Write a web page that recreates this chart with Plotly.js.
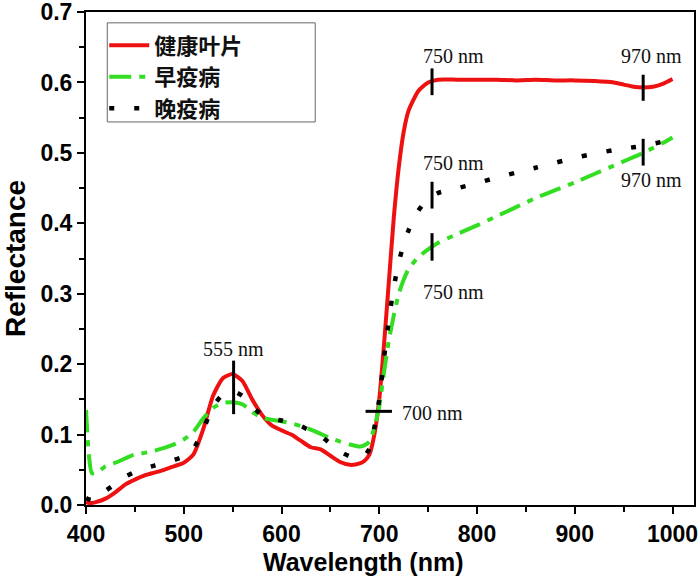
<!DOCTYPE html>
<html>
<head>
<meta charset="utf-8">
<script src="https://cdn.plot.ly/plotly-3.0.1.min.js"></script>
<style>html,body{margin:0;padding:0;background:#fff;}#chart{width:700px;height:580px;}</style>
</head>
<body>
<div id="chart"></div>
<script>
var wavelength = [400,403,406,410,420,430,440,450,460,470,480,490,500,510,520,530,540,550,560,570,580,590,600,610,620,630,640,650,660,670,680,685,690,695,700,705,710,715,720,725,730,740,750,760,780,800,820,840,860,880,900,920,940,950,960,970,980,990,1000];
var healthy = [0.004,0.003,0.003,0.004,0.009,0.018,0.029,0.036,0.042,0.046,0.050,0.055,0.060,0.072,0.108,0.155,0.180,0.186,0.176,0.150,0.128,0.113,0.106,0.100,0.091,0.082,0.079,0.070,0.061,0.057,0.059,0.063,0.072,0.100,0.150,0.230,0.320,0.410,0.480,0.530,0.560,0.588,0.600,0.604,0.604,0.604,0.604,0.603,0.604,0.603,0.603,0.602,0.600,0.597,0.594,0.593,0.594,0.598,0.605];
var early = [0.135,0.070,0.045,0.045,0.055,0.060,0.066,0.072,0.074,0.077,0.081,0.086,0.093,0.104,0.123,0.138,0.145,0.146,0.143,0.132,0.124,0.121,0.119,0.116,0.112,0.107,0.101,0.095,0.090,0.086,0.083,0.085,0.090,0.110,0.140,0.190,0.235,0.270,0.300,0.320,0.335,0.352,0.363,0.372,0.385,0.397,0.410,0.423,0.436,0.447,0.458,0.470,0.482,0.488,0.494,0.500,0.507,0.514,0.522];
var late = [0.010,0.008,0.007,0.008,0.020,0.030,0.040,0.047,0.052,0.056,0.060,0.064,0.069,0.080,0.107,0.140,0.157,0.162,0.155,0.140,0.128,0.123,0.120,0.117,0.112,0.105,0.098,0.087,0.076,0.069,0.067,0.070,0.080,0.110,0.150,0.210,0.265,0.310,0.345,0.370,0.390,0.418,0.435,0.443,0.450,0.457,0.465,0.472,0.479,0.486,0.493,0.499,0.504,0.506,0.508,0.510,0.513,0.516,0.520];
var seriesNames = ['健康叶片','早疫病','晚疫病'];

var xTickVals = [400, 500, 600, 700, 800, 900, 1000];
var xTickText = ['400', '500', '600', '700', '800', '900', '1000'];
var yTickVals = [0, 0.1, 0.2, 0.3, 0.4, 0.5, 0.6, 0.7];
var yTickText = ['0.0', '0.1', '0.2', '0.3', '0.4', '0.5', '0.6', '0.7'];

// feature markers (vertical bars)
var markX  = [551, 754, 970, 754, 754, 970];
var markY0 = [0.129, 0.582, 0.574, 0.421, 0.347, 0.482];
var markY1 = [0.205, 0.620, 0.611, 0.459, 0.386, 0.520];
// horizontal marker at 700 nm
var hMarkX = [686, 713];
var hMarkY = 0.133;
// labels
var labelText = ['555 nm','750 nm','970 nm','750 nm','750 nm','970 nm','700 nm'];
var labelX    = [551, 776, 979, 776, 776, 979, 721];
var labelY    = [0.222, 0.638, 0.638, 0.485, 0.303, 0.462, 0.130];
var labelAnchor = ['center','center','center','center','center','center','left'];

function bold(arr) { return arr.map(function (s) { return '<b>' + s + '</b>'; }); }

var traces = [
  {x: wavelength, y: healthy, name: seriesNames[0], mode: 'lines',
   line: {color: '#ee1111', width: 4, shape: 'spline', smoothing: 0.6}},
  {x: wavelength, y: early, name: seriesNames[1], mode: 'lines',
   line: {color: '#33dd22', width: 4, dash: '22px,8px,6px,8px', shape: 'spline', smoothing: 0.6}},
  {x: wavelength, y: late, name: seriesNames[2], mode: 'lines',
   line: {color: '#000000', width: 4.5, dash: '5px,20px', shape: 'spline', smoothing: 0.6}}
];

var shapes = [];
for (var i = 0; i < markX.length; i++) {
  shapes.push({type: 'line', xref: 'x', yref: 'y', x0: markX[i], x1: markX[i], y0: markY0[i], y1: markY1[i],
               line: {color: '#000', width: 3}});
}
shapes.push({type: 'line', xref: 'x', yref: 'y', x0: hMarkX[0], x1: hMarkX[1], y0: hMarkY, y1: hMarkY,
             line: {color: '#000', width: 3}});
// legend frame
shapes.push({type: 'rect', xref: 'paper', yref: 'paper', x0: 0.035, x1: 0.377, y0: 0.777, y1: 0.978,
             line: {color: '#666', width: 1}, fillcolor: 'rgba(0,0,0,0)', layer: 'above'});

var annotations = [];
for (var j = 0; j < labelText.length; j++) {
  annotations.push({x: labelX[j], y: labelY[j], xref: 'x', yref: 'y', text: labelText[j], showarrow: false,
                    xanchor: labelAnchor[j], yanchor: 'middle',
                    font: {family: 'Liberation Serif, Times New Roman, serif', size: 20, color: '#111'}});
}
annotations.push({x: 0.456, y: -0.115, xref: 'paper', yref: 'paper', text: '<b>Wavelength (nm)</b>',
                  showarrow: false, xanchor: 'center', yanchor: 'middle',
                  font: {family: 'Liberation Sans, Arial, sans-serif', size: 25, color: '#000'}});

var axisCommon = {
  showline: true, linecolor: '#000', linewidth: 2, mirror: true,
  ticks: 'outside', ticklen: 7, tickwidth: 2, tickcolor: '#000',
  showgrid: false, zeroline: false, ticklabeloverflow: 'allow',
  tickfont: {family: 'Liberation Sans, Arial, sans-serif', size: 23, color: '#000'}
};

var layout = {
  width: 700, height: 580,
  margin: {l: 86, r: 6, t: 12, b: 75},
  paper_bgcolor: '#fff', plot_bgcolor: '#fff',
  showlegend: true,
  legend: {x: 0.03, y: 0.975, xanchor: 'left', yanchor: 'top',
           borderwidth: 0, bgcolor: 'rgba(0,0,0,0)',
           font: {family: 'Noto Sans CJK SC, sans-serif', size: 22, color: '#111', weight: 700},
           itemwidth: 40, tracegroupgap: 4},
  xaxis: Object.assign({}, axisCommon, {
    range: [400, 1022], tickmode: 'array', tickvals: xTickVals, ticktext: bold(xTickText),
    minor: {ticks: 'outside', ticklen: 5, tickwidth: 2, tickmode: 'linear', tick0: 400, dtick: 50, tickcolor: '#000'}
  }),
  yaxis: Object.assign({}, axisCommon, {
    range: [0, 0.7001], tickmode: 'array', tickvals: yTickVals, ticktext: bold(yTickText),
    minor: {ticks: 'outside', ticklen: 5, tickwidth: 2, tickmode: 'linear', tick0: 0, dtick: 0.05, tickcolor: '#000'},
    title: {text: '<b>Reflectance</b>', standoff: 8,
            font: {family: 'Liberation Sans, Arial, sans-serif', size: 28, color: '#000'}}
  }),
  shapes: shapes,
  annotations: annotations
};

Plotly.newPlot('chart', traces, layout, {displayModeBar: false, staticPlot: true});
</script>
</body>
</html>
